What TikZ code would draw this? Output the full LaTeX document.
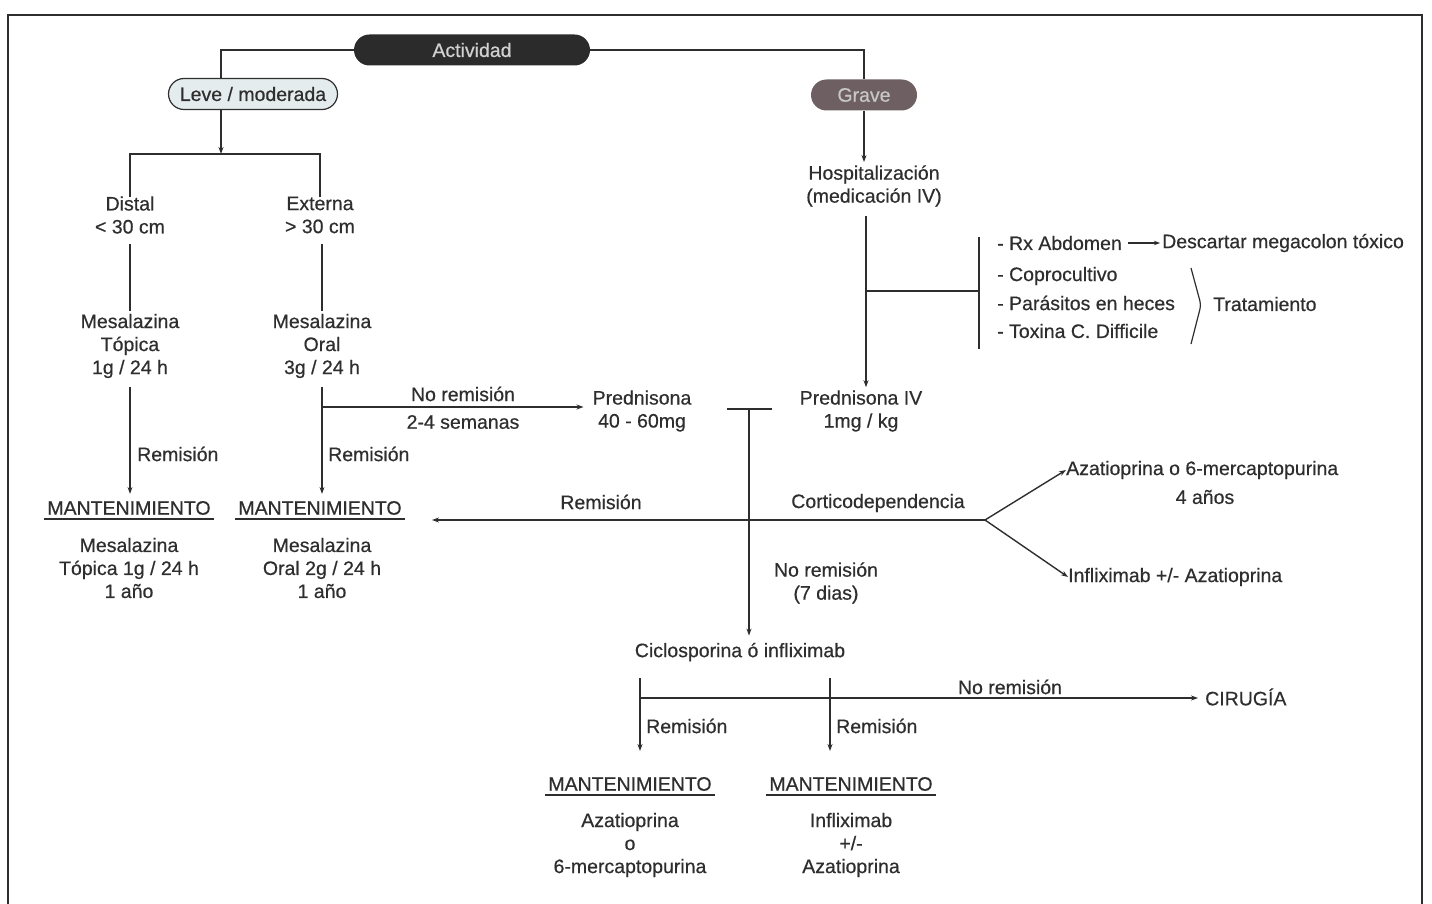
\documentclass[tikz,border=0pt]{standalone}
\usepackage{fontspec}
\setmainfont{Liberation Sans}[FakeBold=0.5]
\usetikzlibrary{shapes.misc,arrows.meta}
\definecolor{ink}{HTML}{2E2E2E}
\definecolor{pilldark}{HTML}{2B2B2B}
\definecolor{pillgrave}{HTML}{6E6062}
\definecolor{pilllight}{HTML}{E4ECEE}
\begin{document}
\begin{tikzpicture}[x=1pt,y=-1pt,
  every node/.style={font=\fontsize{19.5}{23}\selectfont, text=ink, inner sep=3pt},
  txt/.style={align=center},
  ln/.style={draw=ink, line width=1.4pt},
  arr/.style={ln, -{Stealth[length=7pt,width=5pt]}},
  pill/.style={rounded rectangle, minimum height=31pt, inner sep=2pt},
  ul/.style={draw=ink, line width=1.8pt}
]
\useasboundingbox (0,0) rectangle (1432,904);
% frame
\draw[ln] (8,904) -- (8,15) -- (1422,15) -- (1422,904);

% top pills
\node[pill, fill=pilldark, text=white!82!black, minimum width=240pt] (act) at (472,50) {Actividad};
\node[pill, draw=ink, line width=1.2pt, fill=pilllight, minimum width=173pt] (leve) at (253,94) {Leve / moderada};
\node[pill, fill=pillgrave, text=white!78!black, minimum width=110pt] (grave) at (864,95) {Grave};

\coordinate (lt) at (221,78.5);
\coordinate (lb) at (221,110);
\coordinate (sp) at (221,154);
\draw[ln] (act.west) -| (lt);
\draw[ln] (act.east) -| (grave.north);
\draw[arr] (lb) -- (sp);

% left branch
\node[txt] (dist) at (130,215) {Distal\\< 30 cm};
\node[txt] (ext) at (320,215) {Externa\\> 30 cm};
\draw[ln] ([yshift=-4pt]dist.north) |- (sp) -| ([yshift=-4pt]ext.north);

\node[txt] (mes1) at (130,346) {Mesalazina\\Tópica\\1g / 24 h};
\node[txt] (mes2) at (322,346) {Mesalazina\\Oral\\3g / 24 h};
\draw[ln] ([yshift=-7pt]dist.south) -- (dist.south |- mes1.north);
\draw[ln] ([yshift=-7pt]ext.south -| mes2.south) -- (mes2.north);

\node[txt] (mant1) at (129,508) {MANTENIMIENTO};
\node[txt] (mant2) at (320,508) {MANTENIMIENTO};
\draw[ul] ([yshift=-1pt]mant1.south west) -- ([yshift=-1pt]mant1.south east);
\draw[ul] ([yshift=-1pt]mant2.south west) -- ([yshift=-1pt]mant2.south east);

\draw[arr] ([yshift=-6pt]mes1.south) -- ([yshift=4pt]mes1.south |- mant1.north);
\draw[arr] ([yshift=-6pt]mes2.south) -- ([yshift=4pt]mes2.south |- mant2.north);
\node[anchor=west] (rem1) at (134,454) {Remisión};
\node[anchor=west] (rem2) at (325,454) {Remisión};

\node[txt] (mm1) at (129,568) {Mesalazina\\Tópica 1g / 24 h\\1 año};
\node[txt] (mm2) at (322,568) {Mesalazina\\Oral 2g / 24 h\\1 año};

% no remision -> prednisona
\node[txt] (pred) at (642,411) {Prednisona\\40 - 60mg};
\coordinate (j1) at (322,407);
\draw[arr] (j1) -- ([xshift=-6pt]pred.west |- j1);
\node (nr1) at (463,394) {No remisión};
\node (sem) at (463,422) {2-4 semanas};

% grave branch
\node[txt] (hosp) at (874,186) {Hospitalización\\(medicación IV)};
\draw[arr] (grave.south) -- (grave.south |- hosp.north);
\node[txt] (predIV) at (861,411) {Prednisona IV\\1mg / kg};
\coordinate (hs) at (866,216);
\coordinate (bj) at (866,291);
\coordinate (bar) at (979,291);
\coordinate (bar1) at (979,237);
\coordinate (bar2) at (979,349);
\draw[arr] (hs) -- (predIV.north -| hs);
\draw[ln] (bj) -- (bar);
\draw[ln] (bar1) -- (bar2);

\node[anchor=west, inner sep=0pt] (rx) at (997,243) {- Rx Abdomen};
\node[anchor=west, inner sep=0pt] (desc) at (1162,243) {Descartar megacolon tóxico};
\draw[ln, line width=1.2pt, -{Stealth[length=6pt,width=4.5pt]}] ([xshift=6pt]rx.east) -- ([xshift=-2pt]desc.west);
\node[anchor=west, inner sep=0pt] (copro) at (997,276) {- Coprocultivo};
\node[anchor=west, inner sep=0pt] (para) at (997,303) {- Parásitos en heces};
\node[anchor=west, inner sep=0pt] (tox) at (997,331) {- Toxina C. Difficile};
\node[anchor=west, inner sep=0pt] (trat) at (1213,304) {Tratamiento};
\draw[ln, line width=1.2pt, rounded corners=4pt] (1191,268) -- (1201,305) -- (1191,344);

% T bar and corticodependence line
\coordinate (tb1) at (727,409);
\coordinate (tb2) at (772,409);
\coordinate (tb) at (749,409);
\draw[ln] (tb1) -- (tb2);
\node (cic) at (740,652) {Ciclosporina ó infliximab};
\draw[arr] (tb) -- ([yshift=4pt]cic.north -| tb);
\node[txt] (nr2) at (826,583) {No remisión\\(7 dias)};

\coordinate (fk) at (985,520);
\coordinate (rl) at (432,520);
\draw[arr] (fk) -- (rl);
\node (rem3) at (601,502) {Remisión};
\node (cort) at (878,503) {Corticodependencia};
\node[anchor=west, inner sep=0pt] (aza) at (1066,470) {Azatioprina o 6-mercaptopurina};
\node (anos) at (1205,497) {4 años};
\node[anchor=west, inner sep=0pt] (inf) at (1068,577) {Infliximab +/- Azatioprina};
\draw[arr] (fk) -- (aza.west);
\draw[arr] (fk) -- (inf.west);

% bottom
\coordinate (c1) at (640,678);
\coordinate (c2) at (830,678);
\coordinate (h1) at (640,698);
\coordinate (a1) at (640,751);
\coordinate (a2) at (830,751);
\node[anchor=west] (cir) at (1202,697) {CIRUGÍA};
\node (nr3) at (1010,687) {No remisión};
\draw[arr] (c1) -- (a1);
\draw[arr] (c2) -- (a2);
\draw[arr] (h1) -- ([xshift=-4pt]cir.west |- h1);
\node[anchor=west] (rem4) at (643,726) {Remisión};
\node[anchor=west] (rem5) at (833,726) {Remisión};

\node (mant3) at (630,784) {MANTENIMIENTO};
\node (mant4) at (851,784) {MANTENIMIENTO};
\draw[ul] ([yshift=-1pt]mant3.south west) -- ([yshift=-1pt]mant3.south east);
\draw[ul] ([yshift=-1pt]mant4.south west) -- ([yshift=-1pt]mant4.south east);
\node[txt] (az2) at (630,845) {Azatioprina\\o\\6-mercaptopurina};
\node[txt] (inf2) at (851,845) {Infliximab\\+/-\\Azatioprina};
\end{tikzpicture}
\end{document}
